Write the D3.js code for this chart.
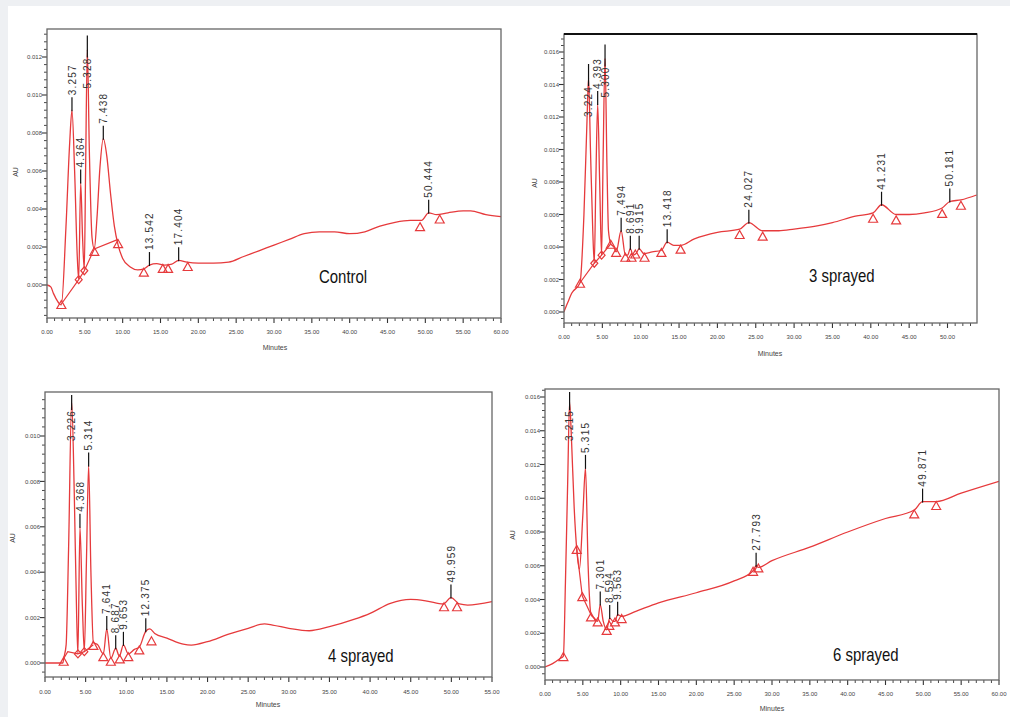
<!DOCTYPE html>
<html><head><meta charset="utf-8">
<script src="https://cdn.jsdelivr.net/npm/d3@7"></script>
<style>
body{margin:0;background:#eef0f3;}
svg{display:block}
</style></head><body>
<svg id="c" width="1010" height="717"></svg>
<script>
// ---------------- DATA ----------------
// [minutes, AU]
const controlTrace = [[0,0],[0.5,-0.0001],[0.85,-0.00044],[1.9,-0.00105],[2.5,0.003],[3.0,0.0075],[3.3,0.0092],[3.65,0.006],[4.0,0.0015],[4.19,0.0003],[4.45,0.0054],[4.7,0.0025],[4.93,0.0008],[5.1,0.006],[5.33,0.0124],[5.6,0.007],[5.95,0.0025],[6.25,0.0019],[6.6,0.0035],[7.0,0.0062],[7.44,0.0077],[7.9,0.0068],[8.4,0.0048],[8.9,0.0031],[9.4,0.0021],[10,0.0014],[11,0.00095],[12,0.0008],[12.8,0.00085],[13.54,0.00105],[14.5,0.00112],[15.5,0.00105],[16.5,0.0011],[17.4,0.0013],[18.5,0.0012],[20,0.00115],[22,0.00115],[24,0.0012],[26,0.0015],[28,0.0018],[30,0.0021],[32,0.0024],[34,0.0027],[36,0.0028],[38,0.0028],[40,0.0027],[42,0.0028],[44,0.0031],[46,0.0033],[48,0.0034],[49.5,0.0034],[50.44,0.0038],[51.5,0.0037],[53,0.0038],[55,0.0039],[56,0.0039],[58,0.0037],[60,0.0036]];
const controlBaseline = [[1.9,-0.001],[4.19,0.00028],[4.93,0.00075],[6.25,0.0019],[9.4,0.0024]];
const controlTriangles = [[1.9,-0.001],[6.25,0.0018],[9.4,0.0022],[12.8,0.0007],[15.3,0.0009],[16.0,0.0009],[18.6,0.001],[49.3,0.0031],[51.9,0.0035]];
const controlDiamonds = [[4.19,0.00028],[4.93,0.00075]];
// [label, minutes, apex AU]
const controlPeaks = [["3.257",3.3,0.0092],["4.364",4.45,0.0054],["5.328",5.33,0.0124],["7.438",7.44,0.0077],["13.542",13.54,0.00105],["17.404",17.4,0.0013],["50.444",50.44,0.0038]];

const sprayed3Trace = [[0,0.00002],[0.5,0.0006],[1.0,0.00115],[2.09,0.0018],[2.6,0.006],[3.0,0.0118],[3.2,0.0144],[3.45,0.010],[3.75,0.005],[3.95,0.003],[4.15,0.008],[4.39,0.0128],[4.65,0.008],[4.9,0.0035],[5.1,0.0095],[5.35,0.0156],[5.6,0.009],[5.8,0.005],[6.1,0.0042],[6.5,0.0040],[6.8,0.0037],[7.45,0.005],[8.0,0.0035],[8.3,0.0035],[8.65,0.0039],[9.0,0.0035],[9.4,0.0036],[9.8,0.0039],[10.4,0.0036],[11.5,0.0037],[12.7,0.0038],[13.45,0.0043],[14.3,0.0041],[15.2,0.0041],[17,0.0045],[20,0.0049],[22.9,0.0051],[24.1,0.0055],[25.9,0.0050],[28,0.0050],[30,0.0051],[33,0.0053],[35,0.0055],[38,0.0059],[40.3,0.0061],[41.4,0.0066],[43.3,0.006],[45,0.006],[47,0.0061],[49.3,0.0064],[50.3,0.0068],[51.75,0.0069],[53.8,0.0072]];
const sprayed3Baseline = [[2.09,0.0018],[3.95,0.003],[4.9,0.0035],[6.1,0.0042]];
const sprayed3Triangles = [[2.09,0.0018],[6.1,0.0042],[6.8,0.0037],[8.0,0.0034],[8.8,0.0034],[9.3,0.0036],[10.5,0.0034],[12.7,0.0037],[15.2,0.0039],[22.9,0.0048],[25.9,0.0047],[40.3,0.0058],[43.3,0.0057],[49.3,0.0061],[51.75,0.0066]];
const sprayed3Diamonds = [[3.95,0.003],[4.9,0.0035]];
const sprayed3Peaks = [["3.224",3.2,0.0144],["4.393",4.39,0.0128],["5.300",5.35,0.0156],["7.494",7.45,0.005],["8.691",8.65,0.0039],["9.915",9.8,0.0039],["13.418",13.45,0.0043],["24.027",24.1,0.0055],["41.231",41.4,0.0066],["50.181",50.3,0.0068]];

const sprayed4Trace = [[0,0],[2.2,0],[2.3,0.0002],[2.6,0.0008],[2.9,0.005],[3.28,0.0115],[3.6,0.0075],[3.9,0.002],[4.05,0.0004],[4.3,0.006],[4.6,0.0025],[4.84,0.0005],[5.1,0.0045],[5.37,0.0087],[5.65,0.004],[5.95,0.0009],[6.5,0.0008],[7.18,0.0004],[7.6,0.0015],[8.1,0.0002],[8.7,0.00065],[9.15,0.0003],[9.65,0.0008],[10.25,0.0004],[11,0.0006],[11.6,0.0007],[12.4,0.0014],[12.9,0.0015],[13.5,0.0013],[15,0.0011],[17,0.00083],[18,0.00079],[20,0.00094],[22.5,0.00126],[25,0.00153],[27,0.00172],[28,0.00167],[30,0.00153],[32.5,0.00142],[35,0.0016],[38,0.00192],[40,0.00219],[42.5,0.00263],[45,0.0028],[47,0.00273],[49,0.0026],[49.95,0.00288],[51,0.0026],[52,0.00255],[55,0.0027]];
const sprayed4Baseline = [[2.3,0.0002],[2.8,0.0005],[4.05,0.0004],[4.84,0.0005],[5.95,0.0008]];
const sprayed4Triangles = [[2.3,0.0001],[5.95,0.0008],[7.18,0.0003],[8.1,0.0001],[9.2,0.0002],[10.25,0.0003],[11.6,0.0006],[13.1,0.001],[49.1,0.0025],[50.7,0.0025]];
const sprayed4Diamonds = [[4.05,0.0004],[4.84,0.0005]];
const sprayed4Peaks = [["3.226",3.28,0.0115],["4.368",4.3,0.006],["5.314",5.37,0.0087],["7.641",7.6,0.0015],["8.687",8.7,0.00065],["9.653",9.65,0.0008],["12.375",12.4,0.0014],["49.959",49.95,0.00288]];

const sprayed6Trace = [[0,0],[1,0.0002],[2,0.0005],[2.43,0.00065],[2.7,0.005],[3.0,0.011],[3.25,0.0157],[3.5,0.0135],[3.85,0.0095],[4.19,0.0070],[4.55,0.0058],[5.0,0.009],[5.35,0.0118],[5.7,0.006],[6.08,0.0031],[6.5,0.0029],[6.96,0.0027],[7.3,0.0037],[7.7,0.0027],[8.15,0.0022],[8.55,0.0029],[9.0,0.0027],[9.25,0.0027],[9.6,0.0031],[10.13,0.003],[12,0.0033],[15,0.0038],[20,0.0044],[25,0.0051],[27.5,0.0057],[27.9,0.006],[28.2,0.0059],[30,0.0063],[35,0.0071],[40,0.0080],[45,0.0088],[48.8,0.0093],[49.9,0.0098],[51.7,0.0098],[55,0.0103],[60,0.0110]];
const sprayed6Baseline = [[4.19,0.0070],[4.93,0.0042],[6.08,0.0031]];
const sprayed6Triangles = [[2.43,0.00065],[4.19,0.0070],[4.93,0.0042],[6.08,0.003],[6.96,0.0027],[8.15,0.0022],[8.5,0.0025],[9.25,0.0027],[10.13,0.0029],[27.5,0.0057],[28.2,0.0059],[48.8,0.0091],[51.7,0.0096]];
const sprayed6Diamonds = [];
const sprayed6Peaks = [["3.215",3.25,0.0157],["5.315",5.35,0.0118],["7.301",7.3,0.0037],["8.594",8.55,0.0029],["9.563",9.6,0.0031],["27.793",27.9,0.006],["49.871",49.9,0.0098]];

const panelNames = ["Control","3 sprayed","4 sprayed","6 sprayed"];
const xTicksP1 = [0,5,10,15,20,25,30,35,40,45,50,55,60];
const xTicksP2 = [0,5,10,15,20,25,30,35,40,45,50];
const xTicksP3 = [0,5,10,15,20,25,30,35,40,45,50,55];
const xTicksP4 = [0,5,10,15,20,25,30,35,40,45,50,55,60];
const yTicksP1 = [0,0.002,0.004,0.006,0.008,0.010,0.012];
const yTicksP2 = [0,0.002,0.004,0.006,0.008,0.010,0.012,0.014,0.016];
const yTicksP3 = [0,0.002,0.004,0.006,0.008,0.010];
const yTicksP4 = [0,0.002,0.004,0.006,0.008,0.010,0.012,0.014,0.016];
const labelsBelow = ["5.328","3.224","5.300","3.226","3.215"];

// ---------------- LAYOUT ----------------
const panels = [
  {name:panelNames[0], trace:controlTrace, base:controlBaseline, tri:controlTriangles, dia:controlDiamonds, peaks:controlPeaks,
   xt:xTicksP1, yt:yTicksP1, L:47, R:501, T:29, B:318, xMax:60, xMaxPx:501, y0:285, yTop:57, yTopV:0.012,
   xMinor:60, textX:319, textY:283, auX:18, auY:172, minX:275, minY:350, xlabY:334, topDark:false},
  {name:panelNames[1], trace:sprayed3Trace, base:sprayed3Baseline, tri:sprayed3Triangles, dia:sprayed3Diamonds, peaks:sprayed3Peaks,
   xt:xTicksP2, yt:yTicksP2, L:564, R:977, T:34, B:323, xMax:50, xMaxPx:947.5, y0:312, yTop:52, yTopV:0.016,
   xMinor:53, textX:809, textY:282, auX:537, auY:183, minX:770, minY:356, xlabY:339, topDark:true},
  {name:panelNames[2], trace:sprayed4Trace, base:sprayed4Baseline, tri:sprayed4Triangles, dia:sprayed4Diamonds, peaks:sprayed4Peaks,
   xt:xTicksP3, yt:yTicksP3, L:45, R:492, T:392, B:677, xMax:55, xMaxPx:492, y0:663, yTop:436, yTopV:0.010,
   xMinor:55, textX:328, textY:662, auX:15, auY:538, minX:268, minY:707, xlabY:694, topDark:false},
  {name:panelNames[3], trace:sprayed6Trace, base:sprayed6Baseline, tri:sprayed6Triangles, dia:sprayed6Diamonds, peaks:sprayed6Peaks,
   xt:xTicksP4, yt:yTicksP4, L:545, R:999, T:389, B:680, xMax:60, xMaxPx:999, y0:667, yTop:397, yTopV:0.016,
   xMinor:60, textX:833, textY:661, auX:515, auY:535, minX:772, minY:711, xlabY:696, topDark:false}
];

const RED = "#e63a3c";
const svg = d3.select("#c");
svg.append("rect").attr("x",8).attr("y",6).attr("width",1002).attr("height",711).attr("fill","#fff");

panels.forEach((p,i) => {
  const xs = d3.scaleLinear().domain([0,p.xMax]).range([p.L,p.xMaxPx]);
  const ys = d3.scaleLinear().domain([0,p.yTopV]).range([p.y0,p.yTop]);
  const g = svg.append("g");
  const cid = "clip"+i;
  g.append("clipPath").attr("id",cid).append("rect")
    .attr("x",p.L).attr("y",p.T).attr("width",p.R-p.L).attr("height",p.B-p.T);
  const plot = g.append("g").attr("clip-path",`url(#${cid})`);
  const line = d3.line().x(d=>xs(d[0])).y(d=>ys(d[1])).curve(d3.curveMonotoneX);
  const lineLin = d3.line().x(d=>xs(d[0])).y(d=>ys(d[1]));
  plot.append("path").attr("d",line(p.trace)).attr("fill","none").attr("stroke",RED).attr("stroke-width",1.3);
  plot.append("path").attr("d",lineLin(p.base)).attr("fill","none").attr("stroke",RED).attr("stroke-width",1.2);
  plot.selectAll(".tri").data(p.tri).enter().append("path")
    .attr("d",d=>{const x=xs(d[0]),y=ys(d[1])+1;return `M${x},${y-4.5}L${x+4.5},${y+3.5}L${x-4.5},${y+3.5}Z`;})
    .attr("fill","none").attr("stroke",RED).attr("stroke-width",1.2);
  plot.selectAll(".dia").data(p.dia).enter().append("path")
    .attr("d",d=>{const x=xs(d[0]),y=ys(d[1]);return `M${x},${y-4}L${x+3.5},${y}L${x},${y+4}L${x-3.5},${y}Z`;})
    .attr("fill","none").attr("stroke",RED).attr("stroke-width",1.2);
  p.peaks.forEach(([lab,t,au])=>{
    const x=xs(t), ya=ys(au);
    const below = labelsBelow.includes(lab);
    let y1,y2,ly,anchor;
    if(below){ y1=ya+8; y2=Math.max(p.T+3,ya-14); ly=ya+8; anchor="end"; }
    else { y1=ya+1; y2=ya-13; ly=ya-15; anchor="start"; }
    g.append("line").attr("x1",x).attr("x2",x).attr("y1",y1).attr("y2",y2)
      .attr("stroke","#111").attr("stroke-width",1.2);
    g.append("text").attr("transform",`translate(${x},${ly}) rotate(-90)`)
      .attr("text-anchor",anchor).attr("dy","0.36em")
      .attr("font-family","Liberation Sans, Arial, sans-serif").attr("font-size",10)
      .attr("letter-spacing",1.2).attr("fill","#333").text(lab);
  });
  const ax = g.append("g").attr("stroke","#333");
  for(let m=0;m<=p.xMinor;m++){
    const major = m%5===0;
    ax.append("line").attr("x1",xs(m)).attr("x2",xs(m)).attr("y1",p.B).attr("y2",p.B+(major?5:3)).attr("stroke-width",major?1.1:0.9);
  }
  const yMin = ys.invert(p.B), yMax = ys.invert(p.T);
  for(let k=Math.ceil(yMin/0.0004);k*0.0004<=yMax;k++){
    const v=k*0.0004, major = k%5===0;
    ax.append("line").attr("x1",p.L).attr("x2",p.L-(major?5:3)).attr("y1",ys(v)).attr("y2",ys(v)).attr("stroke-width",major?1.1:0.9);
  }
  g.selectAll(".xl").data(p.xt).enter().append("text")
    .attr("x",d=>xs(d)).attr("y",p.xlabY).attr("text-anchor","middle")
    .attr("font-family","Liberation Sans, Arial, sans-serif").attr("font-size",6).attr("fill","#444")
    .text(d=>d3.format(".2f")(d));
  g.selectAll(".yl").data(p.yt).enter().append("text")
    .attr("x",p.L-5).attr("y",d=>ys(d)).attr("dy","0.35em").attr("text-anchor","end")
    .attr("font-family","Liberation Sans, Arial, sans-serif").attr("font-size",6).attr("fill","#444")
    .text(d=>d3.format(".3f")(d));
  g.append("text").attr("x",p.minX).attr("y",p.minY).attr("text-anchor","middle")
    .attr("font-family","Liberation Sans, Arial, sans-serif").attr("font-size",7).attr("fill","#444").text("Minutes");
  g.append("text").attr("transform",`translate(${p.auX},${p.auY}) rotate(-90)`).attr("text-anchor","middle")
    .attr("font-family","Liberation Sans, Arial, sans-serif").attr("font-size",7).attr("fill","#444").text("AU");
  g.append("rect").attr("x",p.L).attr("y",p.T).attr("width",p.R-p.L).attr("height",p.B-p.T)
    .attr("fill","none").attr("stroke","#666").attr("stroke-width",1.3);
  if(p.topDark) g.append("line").attr("x1",p.L).attr("x2",p.R).attr("y1",p.T).attr("y2",p.T).attr("stroke","#111").attr("stroke-width",2);
  g.append("text").attr("transform",`translate(${p.textX},${p.textY}) scale(0.83,1)`)
    .attr("font-family","Liberation Sans, Arial, sans-serif").attr("font-size",18)
    .attr("fill","#111").text(p.name);
});
</script></body></html>
